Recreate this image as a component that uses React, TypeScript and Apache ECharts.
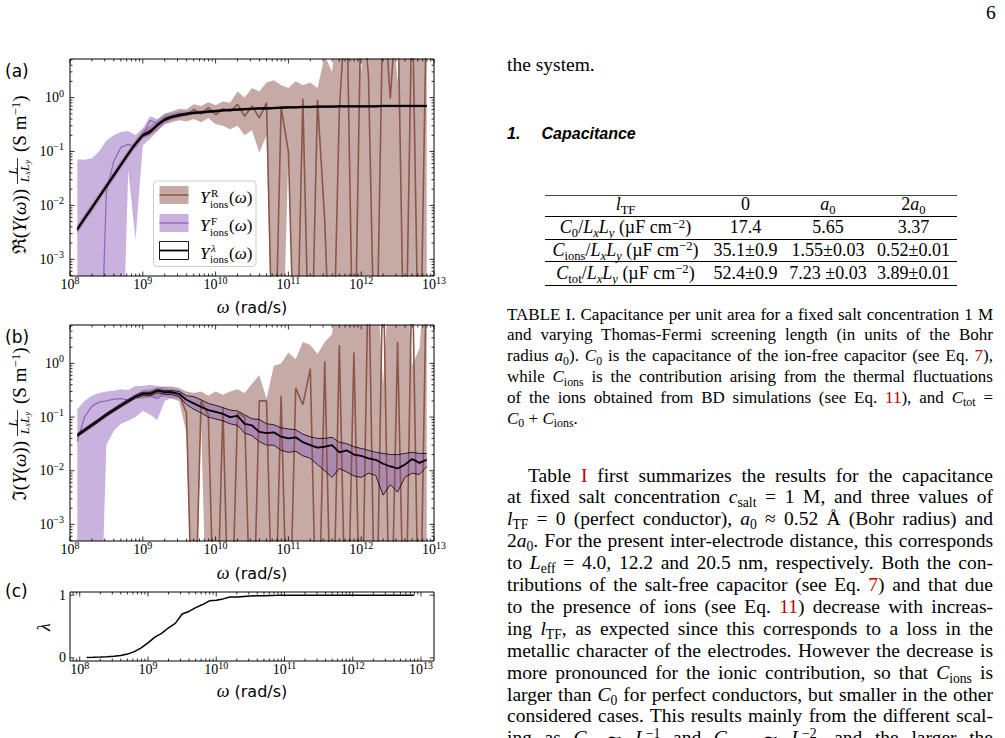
import React, { useEffect, useRef } from 'react';
import * as echarts from 'echarts';

// Points where the estimate is non-positive sit below the log axis; huge ones above it.
const BELOW = 1e-6;
const ABOVE = 1e2;

// Angular frequency grid (rad/s)
const OMEGA = [
  1.26e8, 1.58e8, 2.0e8, 2.51e8, 3.16e8, 3.98e8, 5.01e8, 6.31e8, 7.94e8,
  1.0e9, 1.26e9, 1.58e9, 2.0e9, 2.51e9, 3.16e9, 3.98e9, 5.01e9, 6.31e9, 7.94e9,
  1.0e10, 1.26e10, 1.58e10, 2.0e10, 2.51e10, 3.16e10, 3.98e10, 5.01e10, 6.31e10, 7.94e10,
  1.0e11, 1.26e11, 1.58e11, 2.0e11, 2.51e11, 3.16e11, 3.98e11, 5.01e11, 6.31e11, 7.94e11,
  1.0e12, 1.26e12, 1.58e12, 2.0e12, 2.51e12, 3.16e12, 3.98e12, 5.01e12, 6.31e12, 7.94e12,
];

// (a) real part, S/m
const RE_R = [
  0.0036, 0.0058, 0.0091, 0.0145, 0.023, 0.036, 0.058, 0.09, 0.14,
  0.21, 0.25, 0.3, 0.42, 0.44, 0.5, 0.47, 0.6, 0.5, 0.65,
  0.48, 0.62, 0.55, 0.75, 0.45, 0.7, 0.42, 0.8, BELOW, 0.65,
  0.1, BELOW, 0.95, BELOW, 0.9, 0.005, BELOW, 0.6, ABOVE, BELOW,
  ABOVE, 2.5, BELOW, ABOVE, 0.95, ABOVE, BELOW, ABOVE, BELOW, ABOVE,
];
const RE_R_LO = [
  0.003, 0.0048, 0.0075, 0.012, 0.019, 0.03, 0.048, 0.075, 0.117,
  0.17, 0.2, 0.24, 0.32, 0.35, 0.38, 0.36, 0.4, 0.35, 0.42,
  0.32, 0.3, 0.26, 0.3, 0.2, 0.25, 0.095, 0.2, BELOW, BELOW,
  0.1, BELOW, BELOW, BELOW, BELOW, BELOW, BELOW, BELOW, BELOW, BELOW,
  BELOW, BELOW, BELOW, BELOW, BELOW, BELOW, BELOW, BELOW, BELOW, BELOW,
];
const RE_R_HI = [
  0.0043, 0.0069, 0.0108, 0.017, 0.027, 0.043, 0.069, 0.107, 0.165,
  0.25, 0.3, 0.38, 0.5, 0.55, 0.62, 0.6, 0.75, 0.7, 0.82,
  0.72, 0.85, 0.8, 1.3, 1.0, 1.5, 1.3, 1.9, 2.1, 1.7,
  1.5, 2.0, 1.7, 1.9, 1.5, 6, 3.0, ABOVE, ABOVE, ABOVE,
  3.0, ABOVE, ABOVE, ABOVE, ABOVE, 2.0, ABOVE, 3.5, ABOVE, ABOVE,
];
const RE_F = [
  BELOW, BELOW, BELOW, BELOW, 0.018, 0.065, 0.12, 0.135, 0.12,
  0.2, 0.38, 0.33, 0.42, 0.45, 0.48, 0.5, 0.52, 0.53, 0.55,
  0.56, 0.58, 0.59, 0.6, 0.61, 0.62, 0.63, 0.63, 0.64, 0.65,
  0.66, 0.66, 0.67, 0.67, 0.68, 0.68, 0.68, 0.69, 0.69, 0.69,
  0.69, 0.69, 0.69, 0.7, 0.7, 0.7, 0.7, 0.7, 0.7, 0.7,
];
const RE_F_LO = [
  BELOW, BELOW, BELOW, BELOW, BELOW, BELOW, BELOW, 0.045, 0.0023,
  0.13, 0.17, 0.24, 0.33, 0.38, 0.42, 0.46, 0.49, 0.5, 0.52,
  0.53, 0.55, 0.56, 0.57, 0.58, 0.59, 0.6, 0.6, 0.61, 0.62,
  0.63, 0.63, 0.64, 0.64, 0.65, 0.65, 0.65, 0.66, 0.66, 0.66,
  0.66, 0.66, 0.66, 0.67, 0.67, 0.67, 0.67, 0.67, 0.67, 0.67,
];
const RE_F_HI = [
  0.072, 0.07, 0.075, 0.1, 0.16, 0.2, 0.23, 0.24, 0.2,
  0.27, 0.45, 0.4, 0.5, 0.52, 0.55, 0.56, 0.58, 0.58, 0.6,
  0.6, 0.61, 0.62, 0.63, 0.64, 0.65, 0.66, 0.66, 0.67, 0.68,
  0.69, 0.69, 0.7, 0.7, 0.71, 0.71, 0.71, 0.72, 0.72, 0.72,
  0.72, 0.72, 0.72, 0.73, 0.73, 0.73, 0.73, 0.73, 0.73, 0.73,
];
const RE_LAM = [
  0.0036, 0.0057, 0.009, 0.0143, 0.0226, 0.036, 0.057, 0.09, 0.14,
  0.2, 0.23, 0.31, 0.39, 0.44, 0.47, 0.5, 0.52, 0.53, 0.55,
  0.56, 0.58, 0.59, 0.6, 0.61, 0.62, 0.63, 0.63, 0.64, 0.65,
  0.66, 0.66, 0.67, 0.67, 0.68, 0.68, 0.68, 0.69, 0.69, 0.69,
  0.69, 0.69, 0.69, 0.7, 0.7, 0.7, 0.7, 0.7, 0.7, 0.7,
];
const RE_LAM_LO = [
  0.0034, 0.0054, 0.0086, 0.0136, 0.0215, 0.034, 0.054, 0.086, 0.133,
  0.19, 0.218, 0.295, 0.37, 0.42, 0.45, 0.48, 0.5, 0.51, 0.53,
  0.54, 0.56, 0.57, 0.58, 0.59, 0.6, 0.61, 0.61, 0.62, 0.63,
  0.64, 0.64, 0.65, 0.65, 0.66, 0.66, 0.66, 0.67, 0.67, 0.67,
  0.67, 0.67, 0.67, 0.68, 0.68, 0.68, 0.68, 0.68, 0.68, 0.68,
];
const RE_LAM_HI = [
  0.0038, 0.006, 0.0095, 0.015, 0.0238, 0.038, 0.06, 0.095, 0.147,
  0.21, 0.242, 0.325, 0.41, 0.46, 0.49, 0.52, 0.54, 0.55, 0.57,
  0.58, 0.6, 0.61, 0.62, 0.63, 0.64, 0.65, 0.65, 0.66, 0.67,
  0.68, 0.68, 0.69, 0.69, 0.7, 0.7, 0.7, 0.71, 0.71, 0.71,
  0.71, 0.71, 0.71, 0.72, 0.72, 0.72, 0.72, 0.72, 0.72, 0.72,
];

// (b) imaginary part, S/m
const IM_R = [
  0.046, 0.057, 0.071, 0.088, 0.11, 0.135, 0.165, 0.2, 0.24,
  0.28, 0.28, 0.3, 0.31, 0.3, 0.26, 0.12, BELOW, 0.2, 0.11,
  BELOW, 0.15, BELOW, 0.12, 0.1, BELOW, 0.2, 0.2, BELOW, 0.25,
  BELOW, 0.35, 0.17, 0.8, BELOW, 1.1, BELOW, 2.2, BELOW, 1.6,
  BELOW, ABOVE, BELOW, ABOVE, BELOW, 2.5, BELOW, ABOVE, BELOW, ABOVE,
];
const IM_R_LO = [
  0.042, 0.052, 0.065, 0.081, 0.1, 0.125, 0.15, 0.18, 0.22,
  0.22, 0.23, 0.24, 0.24, 0.22, 0.2, 0.05, BELOW, 0.08, BELOW,
  BELOW, BELOW, BELOW, BELOW, BELOW, BELOW, BELOW, BELOW, BELOW, BELOW,
  BELOW, BELOW, BELOW, BELOW, BELOW, BELOW, BELOW, BELOW, BELOW, BELOW,
  BELOW, BELOW, BELOW, BELOW, BELOW, BELOW, BELOW, BELOW, BELOW, BELOW,
];
const IM_R_HI = [
  0.05, 0.062, 0.077, 0.095, 0.12, 0.145, 0.18, 0.22, 0.26,
  0.32, 0.33, 0.36, 0.37, 0.37, 0.35, 0.3, 0.28, 0.3, 0.25,
  0.3, 0.26, 0.3, 0.33, 0.28, 0.42, 0.6, 0.22, 0.9, 1.0,
  1.6, 1.2, 2.5, 2.2, 1.5, 2.5, 3.5, ABOVE, ABOVE, ABOVE,
  4, ABOVE, ABOVE, 0.4, ABOVE, ABOVE, ABOVE, 0.9, 1.9, ABOVE,
];
const IM_F = [
  0.035, 0.1, 0.16, 0.19, 0.2, 0.215, 0.22, 0.21, 0.24,
  0.27, 0.25, 0.22, 0.28, 0.28, 0.25, 0.21, 0.18, 0.155, 0.135,
  0.125, 0.115, 0.1, 0.105, 0.075, 0.07, 0.053, 0.05, 0.052, 0.043,
  0.04, 0.042, 0.034, 0.03, 0.027, 0.028, 0.03, 0.022, 0.024, 0.02,
  0.019, 0.017, 0.016, 0.0135, 0.012, 0.011, 0.013, 0.0165, 0.014, 0.016,
];
const IM_F_LO = [
  BELOW, BELOW, BELOW, BELOW, 0.03, 0.055, 0.075, 0.085, 0.1,
  0.13, 0.11, 0.088, 0.2, 0.23, 0.22, 0.17, 0.14, 0.12, 0.1,
  0.092, 0.085, 0.075, 0.07, 0.05, 0.045, 0.035, 0.03, 0.03, 0.024,
  0.022, 0.023, 0.019, 0.017, 0.013, 0.01, 0.0075, 0.011, 0.0095, 0.008,
  0.0075, 0.009, 0.0082, 0.0035, 0.0055, 0.004, 0.0075, 0.009, 0.0085, 0.012,
];
const IM_F_HI = [
  0.14, 0.2, 0.25, 0.28, 0.3, 0.31, 0.33, 0.32, 0.38,
  0.38, 0.4, 0.38, 0.36, 0.34, 0.32, 0.25, 0.24, 0.21, 0.18,
  0.165, 0.15, 0.135, 0.13, 0.11, 0.093, 0.09, 0.075, 0.072, 0.063,
  0.06, 0.058, 0.048, 0.043, 0.04, 0.04, 0.042, 0.034, 0.032, 0.028,
  0.026, 0.024, 0.022, 0.021, 0.02, 0.02, 0.021, 0.022, 0.021, 0.021,
];
const IM_LAM = [
  0.046, 0.057, 0.071, 0.088, 0.11, 0.135, 0.165, 0.2, 0.24,
  0.27, 0.27, 0.31, 0.29, 0.29, 0.27, 0.21, 0.18, 0.155, 0.135,
  0.125, 0.115, 0.1, 0.105, 0.075, 0.07, 0.053, 0.05, 0.052, 0.043,
  0.04, 0.042, 0.034, 0.03, 0.027, 0.028, 0.03, 0.022, 0.024, 0.02,
  0.019, 0.017, 0.016, 0.0135, 0.012, 0.011, 0.013, 0.0165, 0.014, 0.016,
];
const IM_LAM_LO = [
  0.043, 0.053, 0.066, 0.082, 0.103, 0.126, 0.154, 0.187, 0.224,
  0.25, 0.25, 0.285, 0.265, 0.265, 0.24, 0.17, 0.14, 0.12, 0.1,
  0.092, 0.085, 0.075, 0.07, 0.05, 0.045, 0.035, 0.03, 0.03, 0.024,
  0.022, 0.023, 0.019, 0.017, 0.013, 0.01, 0.0075, 0.011, 0.0095, 0.008,
  0.0075, 0.009, 0.0082, 0.0035, 0.0055, 0.004, 0.0075, 0.009, 0.0085, 0.012,
];
const IM_LAM_HI = [
  0.049, 0.061, 0.076, 0.094, 0.118, 0.145, 0.177, 0.214, 0.257,
  0.29, 0.29, 0.33, 0.31, 0.31, 0.3, 0.25, 0.24, 0.21, 0.18,
  0.165, 0.15, 0.135, 0.13, 0.11, 0.093, 0.09, 0.075, 0.072, 0.063,
  0.06, 0.058, 0.048, 0.043, 0.04, 0.04, 0.042, 0.034, 0.032, 0.028,
  0.026, 0.024, 0.022, 0.021, 0.02, 0.02, 0.021, 0.022, 0.021, 0.021,
];

// (c) mixing weight lambda
const LAMBDA = [
  0.005, 0.008, 0.012, 0.017, 0.025, 0.038, 0.06, 0.1, 0.16,
  0.24, 0.33, 0.39, 0.48, 0.55, 0.7, 0.74, 0.8, 0.85, 0.91,
  0.92, 0.94, 0.97, 0.97, 0.98, 0.985, 0.99, 0.99, 0.995, 0.997,
  1, 1, 1, 1, 1, 1, 1, 1, 1, 1,
  1, 1, 1, 1, 1, 1, 1, 1, 1, 1,
];

// Axis decorations
const X_MAJOR = [1e8, 1e9, 1e10, 1e11, 1e12, 1e13];
const X_DECADES = [1e7, 1e8, 1e9, 1e10, 1e11, 1e12];
const Y_MAJOR = [1e-3, 1e-2, 1e-1, 1];
const Y_DECADES = [1e-4, 1e-3, 1e-2, 1e-1, 1];
const MINOR_STEPS = [2, 3, 4, 5, 6, 7, 8, 9];
const LAMBDA_TICKS = [0, 1];

const Y_LOG_MIN = 4.9e-4;
const Y_LOG_MAX = 5.2;
const X_MIN_C = 7.2e7;
const X_MAX_C = 1.55e13;

const BROWN = '#8c564b';
const BROWN_FILL = 'rgba(140,86,75,0.5)';
const PURPLE = '#9467bd';
const PURPLE_FILL = 'rgba(148,103,189,0.5)';
const RED = '#c00000';

const SERIF = "'Liberation Serif', 'DejaVu Serif', serif";
const SANS = "'DejaVu Sans', 'Liberation Sans', sans-serif";

const minorValues = (decades: number[], lo: number, hi: number) =>
  decades.flatMap((d) => MINOR_STEPS.map((m) => m * d)).filter((v) => v > lo && v < hi);

const logLabel = (v: number) => {
  const e = Math.log10(v);
  const r = Math.round(e);
  if (Math.abs(e - r) > 1e-6) return '';
  return `{b|10}{s|${r < 0 ? '\u2212' + -r : r}}`;
};

const TICK_RICH = {
  b: { fontFamily: SERIF, fontSize: 14, color: '#000' },
  s: { fontFamily: SERIF, fontSize: 10, color: '#000', padding: [0, 0, 9, 0] },
};

// keep the polygon between two horizontal pixel lines
function clipBetween(pts: number[][], top: number, bottom: number) {
  const clip = (poly: number[][], inside: (p: number[]) => boolean, yEdge: number) => {
    const out: number[][] = [];
    for (let i = 0; i < poly.length; i++) {
      const cur = poly[i];
      const prev = poly[(i + poly.length - 1) % poly.length];
      const cIn = inside(cur);
      const pIn = inside(prev);
      const cross = () => {
        const t = (yEdge - prev[1]) / (cur[1] - prev[1]);
        return [prev[0] + t * (cur[0] - prev[0]), yEdge];
      };
      if (cIn) {
        if (!pIn) out.push(cross());
        out.push(cur);
      } else if (pIn) out.push(cross());
    }
    return out;
  };
  const a = clip(pts, (p) => p[1] >= top, top);
  return clip(a, (p) => p[1] <= bottom, bottom);
}

function bandSeries(g: number, lo: number[], hi: number[], fill: string) {
  return {
    type: 'custom',
    xAxisIndex: g,
    yAxisIndex: g,
    z: 2,
    silent: true,
    data: OMEGA.map((w, i) => [w, lo[i], hi[i]]),
    renderItem: (params: any, api: any) => {
      if (params.dataIndex !== 0) return null;
      const cs = params.coordSys;
      const upper = OMEGA.map((w, i) => api.coord([w, hi[i]]));
      const lower = OMEGA.map((w, i) => api.coord([w, lo[i]])).reverse();
      const pts = clipBetween(upper.concat(lower), cs.y, cs.y + cs.height);
      return { type: 'polygon', shape: { points: pts }, style: { fill, stroke: null } };
    },
  };
}

function lineSeries(g: number, ys: number[], color: string, width: number, z: number) {
  return {
    type: 'line',
    xAxisIndex: g,
    yAxisIndex: g,
    z,
    silent: true,
    clip: true,
    showSymbol: false,
    symbol: 'none',
    data: OMEGA.map((w, i) => [w, ys[i]]),
    lineStyle: { color, width },
    itemStyle: { color },
    emphasis: { disabled: true },
  };
}

function frameSeries(g: number, ref: number[], xMajor: number[], xMinor: number[], yMajor: number[], yMinor: number[]) {
  return {
    type: 'custom',
    xAxisIndex: g,
    yAxisIndex: g,
    z: 20,
    silent: true,
    data: [ref],
    renderItem: (params: any, api: any) => {
      const cs = params.coordSys;
      const L = cs.x;
      const T = cs.y;
      const R = cs.x + cs.width;
      const B = cs.y + cs.height;
      const st = { stroke: '#000', lineWidth: 0.8 };
      const kids: any[] = [];
      const xt = (v: number, len: number) => {
        const px = api.coord([v, ref[1]])[0];
        kids.push({ type: 'line', shape: { x1: px, y1: B, x2: px, y2: B - len }, style: st });
        kids.push({ type: 'line', shape: { x1: px, y1: T, x2: px, y2: T + len }, style: st });
      };
      const yt = (v: number, len: number) => {
        const py = api.coord([ref[0], v])[1];
        kids.push({ type: 'line', shape: { x1: L, y1: py, x2: L + len, y2: py }, style: st });
        kids.push({ type: 'line', shape: { x1: R, y1: py, x2: R - len, y2: py }, style: st });
      };
      xMajor.forEach((v) => xt(v, 4.5));
      xMinor.forEach((v) => xt(v, 2.5));
      yMajor.forEach((v) => yt(v, 4.5));
      yMinor.forEach((v) => yt(v, 2.5));
      kids.push({
        type: 'rect',
        shape: { x: L, y: T, width: cs.width, height: cs.height },
        style: { fill: 'transparent', stroke: '#000', lineWidth: 1 },
      });
      return { type: 'group', children: kids };
    },
  };
}

function admittanceLabel(cx: number, cy: number, part: string) {
  const rich = {
    m: { fontFamily: SERIF, fontSize: 19, color: '#000' },
    i: { fontFamily: SERIF, fontSize: 19, fontStyle: 'italic', color: '#000' },
    sp: { fontFamily: SERIF, fontSize: 13, color: '#000', padding: [0, 0, 8, 0] },
  };
  const frac = {
    i: { fontFamily: SERIF, fontSize: 13, fontStyle: 'italic', color: '#000' },
    sb: { fontFamily: SERIF, fontSize: 9, fontStyle: 'italic', color: '#000', padding: [5, 0, 0, 0] },
  };
  return {
    type: 'group',
    x: cx,
    y: cy,
    rotation: Math.PI / 2,
    children: [
      { type: 'text', x: -15, y: 0, style: { text: `{m|${part}(}{i|Y}{m|(}{i|\u03c9}{m|))}`, rich, align: 'right', verticalAlign: 'middle' } },
      { type: 'text', x: 3, y: -7, style: { text: '{i|L}', rich: frac, align: 'center', verticalAlign: 'middle' } },
      { type: 'line', shape: { x1: -10, y1: -1.5, x2: 16, y2: -1.5 }, style: { stroke: '#000', lineWidth: 0.8 } },
      { type: 'text', x: 3, y: 5.5, style: { text: '{i|L}{sb|x}{i|L}{sb|y}', rich: frac, align: 'center', verticalAlign: 'middle' } },
      { type: 'text', x: 22, y: 0, style: { text: '{m|(S m}{sp|\u22121}{m|)}', rich, align: 'left', verticalAlign: 'middle' } },
    ],
  };
}

function axisTitle(cx: number, cy: number) {
  return {
    type: 'text',
    x: cx,
    y: cy,
    style: {
      text: '{w|\u03c9}{t| (rad/s)}',
      align: 'center',
      verticalAlign: 'middle',
      rich: {
        w: { fontFamily: SERIF, fontStyle: 'italic', fontSize: 18, color: '#000' },
        t: { fontFamily: SANS, fontSize: 16, color: '#000' },
      },
    },
  };
}

function panelLetter(text: string, x: number, y: number) {
  return { type: 'text', x, y, style: { text, fontFamily: SANS, fontSize: 17, fill: '#000', verticalAlign: 'middle' } };
}

function legendEntry(y: number, sup: string, kind: 'R' | 'F' | 'L') {
  const z = 101;
  const patch: any[] = [];
  if (kind === 'L') {
    patch.push({ type: 'rect', z, shape: { x: 159.5, y: y - 9, width: 29, height: 18 }, style: { fill: '#fff', stroke: '#000', lineWidth: 0.9 } });
    patch.push({ type: 'line', z, shape: { x1: 159.5, y1: y, x2: 188.5, y2: y }, style: { stroke: '#000', lineWidth: 1.8 } });
  } else {
    const fill = kind === 'R' ? BROWN_FILL : PURPLE_FILL;
    const col = kind === 'R' ? BROWN : PURPLE;
    patch.push({ type: 'rect', z, shape: { x: 159.5, y: y - 9, width: 29, height: 18 }, style: { fill } });
    patch.push({ type: 'line', z, shape: { x1: 159.5, y1: y, x2: 188.5, y2: y }, style: { stroke: col, lineWidth: 1.5 } });
  }
  const ty = y + 2.5;
  const txt = [
    { type: 'text', z, x: 200, y: ty, style: { text: 'Y', fontFamily: SERIF, fontStyle: 'italic', fontSize: 17, fill: '#000', verticalAlign: 'middle' } },
    { type: 'text', z, x: 211, y: ty - 5, style: { text: sup, fontFamily: SERIF, fontStyle: kind === 'L' ? 'italic' : 'normal', fontSize: 11, fill: '#000', verticalAlign: 'middle' } },
    { type: 'text', z, x: 210, y: ty + 6, style: { text: 'ions', fontFamily: SERIF, fontSize: 11, fill: '#000', verticalAlign: 'middle' } },
    {
      type: 'text', z, x: 229, y: ty,
      style: {
        text: '{m|(}{i|\u03c9}{m|)}',
        verticalAlign: 'middle',
        rich: {
          m: { fontFamily: SERIF, fontSize: 17, color: '#000' },
          i: { fontFamily: SERIF, fontStyle: 'italic', fontSize: 17, color: '#000' },
        },
      },
    },
  ];
  return [...patch, ...txt];
}

function buildOption() {
  const xMinorAB = minorValues(X_DECADES, 1e8, 1e13);
  const xMinorC = minorValues(X_DECADES, X_MIN_C, X_MAX_C);
  const yMinor = minorValues(Y_DECADES, Y_LOG_MIN, Y_LOG_MAX);

  const hidden = { axisLine: { show: false }, axisTick: { show: false }, splitLine: { show: false } };
  const xAxis = [0, 1, 2].map((g) => ({
    type: 'log',
    logBase: 10,
    gridIndex: g,
    min: g === 2 ? X_MIN_C : 1e8,
    max: g === 2 ? X_MAX_C : 1e13,
    ...hidden,
    axisLabel: { formatter: logLabel, rich: TICK_RICH, margin: -1, hideOverlap: false },
  }));
  const yAxis: any[] = [0, 1].map((g) => ({
    type: 'log',
    logBase: 10,
    gridIndex: g,
    min: Y_LOG_MIN,
    max: Y_LOG_MAX,
    ...hidden,
    axisLabel: { formatter: logLabel, rich: TICK_RICH, margin: 6, hideOverlap: false },
  }));
  yAxis.push({
    type: 'value',
    gridIndex: 2,
    min: -0.05,
    max: 1.05,
    ...hidden,
    axisLabel: {
      formatter: (v: number) => (LAMBDA_TICKS.some((t) => Math.abs(v - t) < 1e-9) ? `{b|${Math.round(v)}}` : ''),
      rich: TICK_RICH,
      margin: 4,
      hideOverlap: false,
    },
  });

  const series = [
    bandSeries(0, RE_R_LO, RE_R_HI, BROWN_FILL),
    bandSeries(0, RE_F_LO, RE_F_HI, PURPLE_FILL),
    lineSeries(0, RE_R, BROWN, 1.6, 3),
    lineSeries(0, RE_F, PURPLE, 1.3, 3),
    lineSeries(0, RE_LAM_LO, '#000', 0.8, 4),
    lineSeries(0, RE_LAM_HI, '#000', 0.8, 4),
    lineSeries(0, RE_LAM, '#000', 1.8, 5),
    frameSeries(0, [1e10, 1], X_MAJOR, xMinorAB, Y_MAJOR, yMinor),

    bandSeries(1, IM_R_LO, IM_R_HI, BROWN_FILL),
    bandSeries(1, IM_F_LO, IM_F_HI, PURPLE_FILL),
    lineSeries(1, IM_R, BROWN, 1.6, 3),
    lineSeries(1, IM_F, PURPLE, 1.3, 3),
    lineSeries(1, IM_LAM_LO, '#000', 0.8, 4),
    lineSeries(1, IM_LAM_HI, '#000', 0.8, 4),
    lineSeries(1, IM_LAM, '#000', 1.8, 5),
    frameSeries(1, [1e10, 1], X_MAJOR, xMinorAB, Y_MAJOR, yMinor),

    lineSeries(2, LAMBDA, '#000', 1.5, 5),
    frameSeries(2, [1e10, 0.5], X_MAJOR, xMinorC, LAMBDA_TICKS, []),
  ];

  const graphic: any[] = [
    panelLetter('(a)', 5, 71),
    panelLetter('(b)', 5, 336.5),
    panelLetter('(c)', 5, 590.5),
    axisTitle(252, 307),
    axisTitle(252, 573),
    axisTitle(252, 691),
    admittanceLabel(19, 174, '\u211c'),
    admittanceLabel(19, 426, '\u2111'),
    {
      type: 'text', x: 43.5, y: 627, rotation: Math.PI / 2,
      style: { text: '\u03bb', fontFamily: SERIF, fontStyle: 'italic', fontSize: 18, fill: '#000', align: 'center', verticalAlign: 'middle' },
    },
    {
      type: 'rect', z: 100,
      shape: { x: 153.5, y: 181, width: 102.5, height: 85.5, r: 3 },
      style: { fill: 'rgba(255,255,255,0.8)', stroke: '#cccccc', lineWidth: 1 },
    },
    ...legendEntry(195, 'R', 'R'),
    ...legendEntry(223, 'F', 'F'),
    ...legendEntry(250.5, '\u03bb', 'L'),
  ];

  return {
    animation: false,
    grid: [
      { left: 70, top: 59, width: 364, height: 217 },
      { left: 70, top: 325, width: 364, height: 216 },
      { left: 70, top: 592, width: 364, height: 69 },
    ],
    xAxis,
    yAxis,
    series,
    graphic,
  };
}

const Sb = ({ children }: any) => (
  <span style={{ fontSize: '0.7em', position: 'relative', top: '0.3em', lineHeight: 0 }}>{children}</span>
);
const Sp = ({ children }: any) => (
  <span style={{ fontSize: '0.7em', position: 'relative', top: '-0.45em', lineHeight: 0 }}>{children}</span>
);
const Ref = ({ children }: any) => <span style={{ color: RED }}>{children}</span>;

const COL_LEFT = 507;
const COL_WIDTH = 486;

function TextLine({ top, size, last, indent = 0, lh = 20.8, children }: any) {
  return (
    <div
      style={{
        position: 'absolute',
        left: COL_LEFT + indent,
        top,
        width: COL_WIDTH - indent,
        fontSize: size,
        lineHeight: `${lh}px`,
        wordSpacing: last ? 'normal' : '-2px',
        textAlign: last ? 'left' : 'justify',
        textAlignLast: last ? 'left' : 'justify',
      } as any}
    >
      {children}
    </div>
  );
}

const CAPTION_LINES = [
  <>TABLE I. Capacitance per unit area for a fixed salt concentration 1 M</>,
  <>and varying Thomas-Fermi screening length (in units of the Bohr</>,
  <>radius <i>a</i><Sb>0</Sb>). <i>C</i><Sb>0</Sb> is the capacitance of the ion-free capacitor (see Eq. <Ref>7</Ref>),</>,
  <>while <i>C</i><Sb>ions</Sb> is the contribution arising from the thermal fluctuations</>,
  <>of the ions obtained from BD simulations (see Eq. <Ref>11</Ref>), and <i>C</i><Sb>tot</Sb> =</>,
  <><i>C</i><Sb>0</Sb> + <i>C</i><Sb>ions</Sb>.</>,
];

const BODY_LINES = [
  <>Table <Ref>I</Ref> first summarizes the results for the capacitance</>,
  <>at fixed salt concentration <i>c</i><Sb>salt</Sb> = 1 M, and three values of</>,
  <><i>l</i><Sb>TF</Sb> = 0 (perfect conductor), <i>a</i><Sb>0</Sb> ≈ 0.52 Å (Bohr radius) and</>,
  <>2<i>a</i><Sb>0</Sb>. For the present inter-electrode distance, this corresponds</>,
  <>to <i>L</i><Sb>eff</Sb> = 4.0, 12.2 and 20.5 nm, respectively. Both the con-</>,
  <>tributions of the salt-free capacitor (see Eq. <Ref>7</Ref>) and that due</>,
  <>to the presence of ions (see Eq. <Ref>11</Ref>) decrease with increas-</>,
  <>ing <i>l</i><Sb>TF</Sb>, as expected since this corresponds to a loss in the</>,
  <>metallic character of the electrodes. However the decrease is</>,
  <>more pronounced for the ionic contribution, so that <i>C</i><Sb>ions</Sb> is</>,
  <>larger than <i>C</i><Sb>0</Sb> for perfect conductors, but smaller in the other</>,
  <>considered cases. This results mainly from the different scal-</>,
  <>ing as <i>C</i><Sb>0</Sb> ∼ <i>L</i><Sp>−1</Sp> and <i>C</i><Sb>ions</Sb> ∼ <i>L</i><Sp>−2</Sp>, and the larger the</>,
];

const UNIT = <> (µF cm<Sp>−2</Sp>)</>;
const TABLE_ROWS = [
  [<><i>l</i><Sb>TF</Sb></>, <>0</>, <><i>a</i><Sb>0</Sb></>, <>2<i>a</i><Sb>0</Sb></>],
  [<><i>C</i><Sb>0</Sb>/<i>L</i><Sb><i>x</i></Sb><i>L</i><Sb><i>y</i></Sb>{UNIT}</>, <>17.4</>, <>5.65</>, <>3.37</>],
  [<><i>C</i><Sb>ions</Sb>/<i>L</i><Sb><i>x</i></Sb><i>L</i><Sb><i>y</i></Sb>{UNIT}</>, <>35.1±0.9</>, <>1.55±0.03</>, <>0.52±0.01</>],
  [<><i>C</i><Sb>tot</Sb>/<i>L</i><Sb><i>x</i></Sb><i>L</i><Sb><i>y</i></Sb>{UNIT}</>, <>52.4±0.9</>, <>7.23 ±0.03</>, <>3.89±0.01</>],
];
const TABLE_COLS = [625.5, 745.5, 828, 913.5];
const TABLE_BASELINES = [210.5, 233.5, 256, 279];
const TABLE_RULES = [
  { y: 194.5, h: 1.6, c: '#444' },
  { y: 216.3, h: 1, c: '#000' },
  { y: 238.8, h: 1, c: '#000' },
  { y: 261.2, h: 1, c: '#000' },
  { y: 284.5, h: 1.3, c: '#000' },
];

const BODY_TOP = 464.5;
const BODY_PITCH = 21.9;

export default function App() {
  const ref = useRef<HTMLDivElement>(null);
  useEffect(() => {
    const chart = echarts.init(ref.current as HTMLDivElement, null, { renderer: 'svg' });
    chart.setOption(buildOption() as any);
    return () => chart.dispose();
  }, []);

  return (
    <div
      style={{
        position: 'absolute', left: 0, top: 0, width: 1005, height: 738, overflow: 'hidden',
        background: '#fff', color: '#000', fontFamily: SERIF,
      }}
    >
      <div ref={ref} style={{ position: 'absolute', left: 0, top: 0, width: 470, height: 738 }} />

      <div style={{ position: 'absolute', left: 986, top: 3, fontSize: 19.5, lineHeight: '20.8px' }}>6</div>

      <TextLine top={54.7} size={19.5} last>the system.</TextLine>

      <div
        style={{
          position: 'absolute', left: COL_LEFT, top: 123.8, fontFamily: "'Liberation Sans', Arial, sans-serif",
          fontWeight: 'bold', fontStyle: 'italic', fontSize: 16, lineHeight: '20px', whiteSpace: 'nowrap',
        }}
      >
        1.<span style={{ position: 'absolute', left: 34.5 }}>Capacitance</span>
      </div>

      {TABLE_RULES.map((r, i) => (
        <div key={'r' + i} style={{ position: 'absolute', left: 545, top: r.y, width: 412, height: r.h, background: r.c }} />
      ))}
      {TABLE_ROWS.map((row, ri) =>
        row.map((cell, ci) => (
          <div
            key={`c${ri}-${ci}`}
            style={{
              position: 'absolute', left: TABLE_COLS[ci] - 100, width: 200, top: TABLE_BASELINES[ri] - 16.1,
              textAlign: 'center', fontSize: 18, lineHeight: '20px', whiteSpace: 'nowrap',
            }}
          >
            {cell}
          </div>
        )),
      )}

      {CAPTION_LINES.map((ln, i) => (
        <TextLine key={'cap' + i} top={304.6 + 20.8 * i} size={17} last={i === CAPTION_LINES.length - 1}>
          {ln}
        </TextLine>
      ))}

      {BODY_LINES.map((ln, i) => (
        <TextLine key={'b' + i} top={BODY_TOP + BODY_PITCH * i} size={19.5} lh={BODY_PITCH} indent={i === 0 ? 21 : 0}>
          {ln}
        </TextLine>
      ))}
    </div>
  );
}
